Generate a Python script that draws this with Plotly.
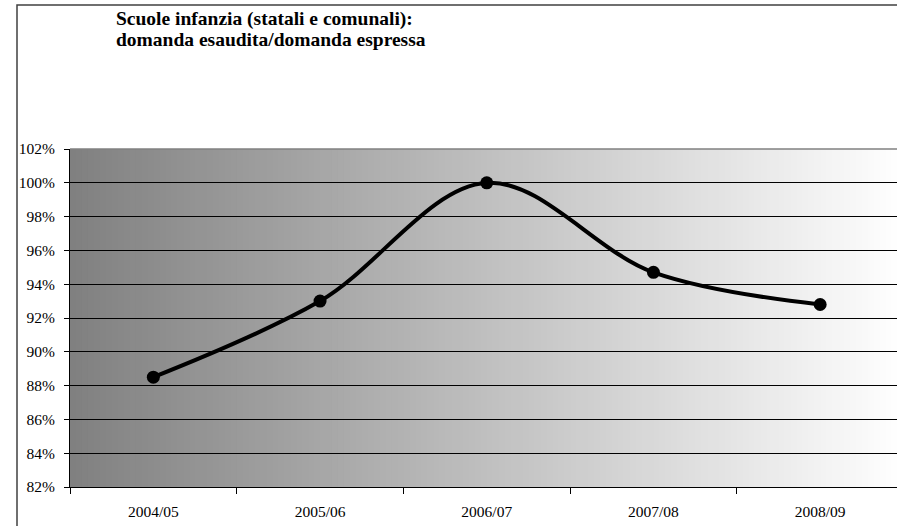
import plotly.graph_objects as go

categories = ["2004/05", "2005/06", "2006/07", "2007/08", "2008/09"]
values = [0.885, 0.930, 1.000, 0.947, 0.928]
y_ticks = [0.82, 0.84, 0.86, 0.88, 0.90, 0.92, 0.94, 0.96, 0.98, 1.00, 1.02]
title_lines = ["Scuole infanzia (statali e comunali):", "domanda esaudita/domanda espressa"]

W, H = 897, 526
L, R, T, B = 70, 0, 149, 39
plot_w = W - L - R
plot_h = H - T - B
cat_px = 166.7
SERIF = "Liberation Serif"

fig = go.Figure()
fig.add_trace(go.Scatter(
    x=categories, y=values, mode="lines+markers",
    line=dict(color="black", width=4, shape="spline", smoothing=1.0),
    marker=dict(color="black", size=13),
    hoverinfo="skip", showlegend=False,
))

shapes = []
# gradient background (dark gray -> white), full plot area slightly wider than visible
n = 140
full_frac = (cat_px * 5) / plot_w
for i in range(n):
    x0 = i / n * full_frac
    x1 = (i + 1) / n * full_frac + 0.002
    t = (i + 0.5) / n
    c = int(round(128 + (255 - 128) * t))
    shapes.append(dict(type="rect", xref="paper", yref="paper", x0=x0, x1=min(x1, 1.0),
                       y0=0, y1=1, fillcolor=f"rgb({c},{c},{c})", line=dict(width=0), layer="below"))
    if x1 >= 1.0:
        break
# plot area top border (gray)
shapes.append(dict(type="line", xref="paper", yref="paper", x0=0, x1=1.0, y0=1, y1=1,
                   line=dict(color="#808080", width=1.5)))
# chart border (left and top)
bx = (17 - L) / plot_w
by = (H - B - 5) / plot_h
shapes.append(dict(type="path", xref="paper", yref="paper",
                   path=f"M {bx},-0.2 L {bx},{by} L 1.05,{by}",
                   line=dict(color="#404040", width=1.5)))

annotations = []
for i, line in enumerate(title_lines):
    base_px = 27 + 20 * i
    annotations.append(dict(
        text="<b>" + line + "</b>",
        xref="paper", yref="paper", x=(115 - L) / plot_w, y=(H - B - base_px) / plot_h,
        xanchor="left", yanchor="bottom", align="left", showarrow=False,
        yshift=-4, borderpad=0,
        font=dict(family=SERIF, size=19.5, color="black"),
    ))

fig.update_layout(
    width=W, height=H,
    margin=dict(l=L, r=R, t=T, b=B),
    paper_bgcolor="white", plot_bgcolor="rgba(0,0,0,0)",
    shapes=shapes,
    font=dict(family=SERIF, color="black", size=15.5),
    annotations=annotations,
)
fig.update_xaxes(
    type="category", categoryorder="array", categoryarray=categories,
    range=[-0.5, -0.5 + plot_w / cat_px],
    tickson="boundaries", ticks="outside", ticklen=6, tickcolor="black",
    showline=True, linecolor="black", linewidth=1,
    showgrid=False, zeroline=False, fixedrange=True,
    ticklabelstandoff=10,
    tickfont=dict(family=SERIF, size=15.5),
)
fig.update_yaxes(
    range=[0.82, 1.02], tickvals=y_ticks, tickformat=".0%",
    ticks="outside", ticklen=5, tickcolor="black",
    showline=True, linecolor="black", linewidth=1,
    showgrid=True, gridcolor="black", gridwidth=1, zeroline=False, fixedrange=True,
    ticklabelstandoff=6,
    tickfont=dict(family=SERIF, size=15.5),
)

fig.write_html(
    "out.html",
    config={"displayModeBar": False},
    post_script="document.body.style.margin='0';document.body.style.overflow='hidden';",
)
